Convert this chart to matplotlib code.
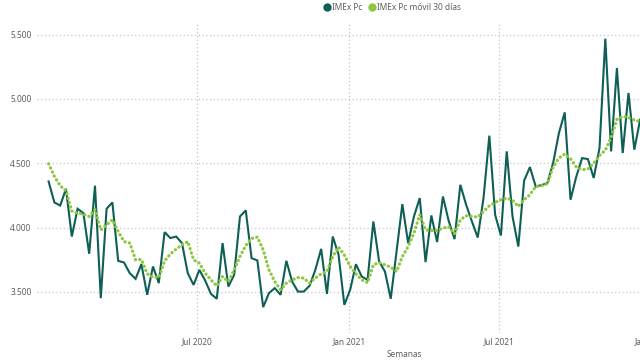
import matplotlib
matplotlib.use("Agg")
import matplotlib.pyplot as plt
import matplotlib.dates as mdates
from matplotlib.lines import Line2D
from matplotlib.ticker import FuncFormatter
import pandas as pd

# weekly series
weeks = pd.date_range("2020-01-04", periods=103, freq="7D")

imex_pc = [
    4358, 4195, 4171, 4301, 3930, 4146, 4112, 3796, 4325, 3451,
    4146, 4195, 3741, 3728, 3645, 3601, 3715, 3477, 3697, 3568,
    3964, 3918, 3930, 3879, 3645, 3554, 3671, 3588, 3484, 3446,
    3879, 3541, 3632, 4086, 4133, 3762, 3744, 3381, 3490, 3529,
    3477, 3741, 3580, 3502, 3502, 3547, 3671, 3834, 3484, 3930,
    3788, 3399, 3516, 3715, 3619, 3593, 4047, 3736, 3658, 3446,
    3813, 4182, 3879, 4086, 4229, 3731, 4094, 3887, 4241, 4050,
    3910, 4332, 4177, 4047, 3922, 4229, 4714, 4099, 3938, 4592,
    4086, 3852, 4364, 4470, 4319, 4330, 4345, 4501, 4734, 4895,
    4216, 4397, 4540, 4532, 4385, 4618, 5468, 4592, 5240, 4579,
    5046, 4605, 4838,
]

imex_pc_movil = [
    4496, 4397, 4325, 4285, 4128, 4112, 4104, 4086, 4140, 3982,
    4021, 4060, 3969, 3891, 3879, 3749, 3752, 3640, 3615, 3612,
    3740, 3794, 3832, 3866, 3891, 3749, 3723, 3645, 3593, 3545,
    3619, 3580, 3671, 3775, 3860, 3915, 3926, 3827, 3671, 3580,
    3516, 3568, 3593, 3611, 3607, 3568, 3607, 3640, 3658, 3775,
    3848, 3785, 3697, 3640, 3593, 3572, 3710, 3728, 3710, 3692,
    3658, 3775, 3852, 3957, 4099, 3982, 3977, 3977, 3996, 4005,
    3951, 4060, 4091, 4086, 4081, 4125, 4169, 4195, 4216, 4229,
    4211, 4164, 4216, 4255, 4319, 4325, 4340, 4470, 4540, 4571,
    4535, 4470, 4449, 4455, 4500, 4560, 4600, 4700, 4840, 4864,
    4855, 4835, 4825,
]

series_labels = ["IMEx Pc", "IMEx Pc móvil 30 días"]
y_ticks = [3500, 4000, 4500, 5000, 5500]
x_ticks = pd.to_datetime(["2020-07-01", "2021-01-01", "2021-07-01", "2022-01-01"])

DARK = "#0E5F55"
GREEN = "#8DC641"
TEXT = "#605E5C"
GRID = "#C8C6C4"

plt.rcParams["font.family"] = ["Noto Sans", "DejaVu Sans"]

fig = plt.figure(figsize=(6.4, 3.64), dpi=100)
# the visual is cropped on the right, so the axes run past the figure edge
ax = fig.add_axes([37 / 640, 31 / 364, 734 / 640, 310 / 364])

ax.plot(weeks, imex_pc, color=DARK, lw=1.5, solid_joinstyle="miter", zorder=3)
ax.plot(weeks, imex_pc_movil, color=GREEN, lw=2.3,
        linestyle=(0, (0.1, 1.3)), dash_capstyle="round", zorder=4)

ax.set_xlim(pd.Timestamp("2019-12-21"), pd.Timestamp("2022-05-25"))
ax.set_ylim(3180, 5590)

ax.set_yticks(y_ticks)
ax.yaxis.set_major_formatter(FuncFormatter(lambda v, _: f"{int(v):,}".replace(",", ".")))
ax.set_xticks(x_ticks)
ax.xaxis.set_major_formatter(mdates.DateFormatter("%b %Y"))

ax.tick_params(axis="both", length=0, labelsize=6, labelcolor=TEXT)
ax.tick_params(axis="y", pad=4)
ax.tick_params(axis="x", pad=3)

ax.grid(True, color=GRID, lw=0.9, linestyle=(0, (1, 2)))
ax.set_axisbelow(True)
for s in ax.spines.values():
    s.set_visible(False)

ax.set_xlabel("Semanas", fontsize=6, color=TEXT, labelpad=3)

handles = [
    Line2D([], [], marker="o", ls="", color=DARK, markersize=5),
    Line2D([], [], marker="o", ls="", color=GREEN, markersize=5),
]
fig.legend(handles, series_labels, loc="center", bbox_to_anchor=(392 / 640, 1 - 7 / 364),
           ncol=2, frameon=False, fontsize=6, labelcolor=TEXT,
           handletextpad=0.1, columnspacing=0.6, handlelength=1.0, borderpad=0)

fig.savefig("out.png", dpi=100)
